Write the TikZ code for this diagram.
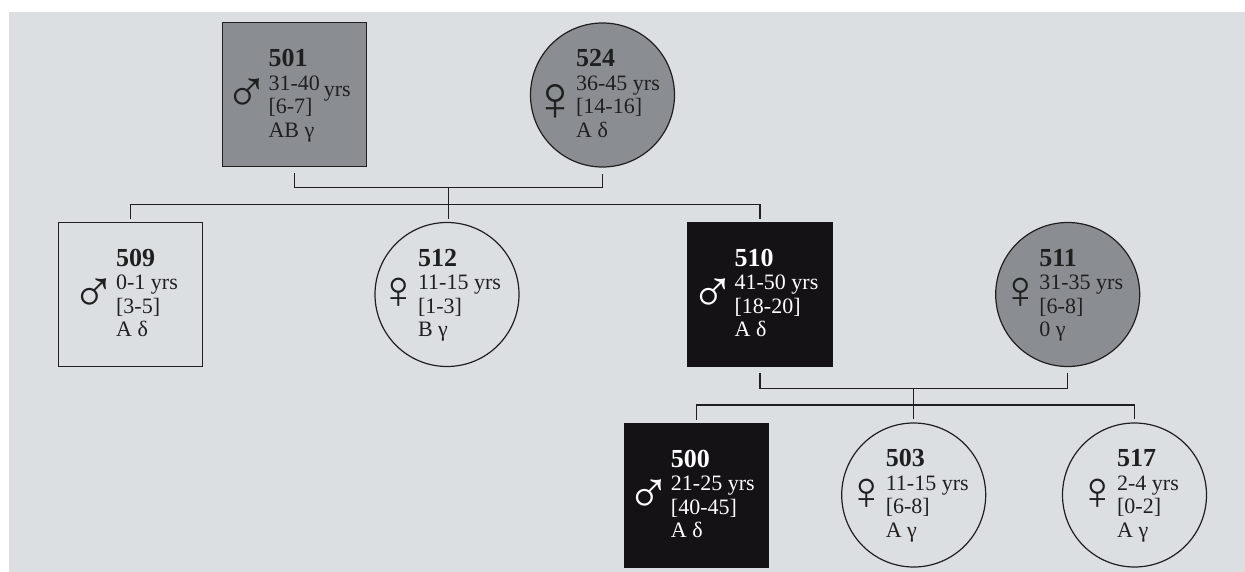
\documentclass[tikz,border=0pt]{standalone}
\usepackage{fontspec}
\setmainfont{Liberation Serif}
\newfontfamily\symfont{Liberation Serif}

\definecolor{bg}{HTML}{DCDFE2}
\definecolor{midgray}{HTML}{8A8E93}
\definecolor{darkfill}{HTML}{141214}
\definecolor{ink}{HTML}{1F1F1F}

% sex symbols in a box of fixed width, vertically centred near the first data line
\newcommand\symcentre[3]{\smash{\makebox[#2][c]{\raisebox{#3}{$\vcenter{\hbox{#1}}$}}}}
\newcommand\msym{\symcentre{\symfont\fontsize{60}{60}\selectfont ♂}{22pt}{-10.5pt}}
\newcommand\fsym{\symcentre{\symfont\fontsize{54}{54}\selectfont ♀}{16pt}{-9pt}}
\newcommand\fsymbig{\symcentre{\symfont\fontsize{64}{64}\selectfont ♀}{20pt}{-17pt}}

% person label: symbol, number, three lines
\newcommand\pinfo[5]{%
  \begin{tabular}{@{}c@{\hspace{11pt}}l@{}}
    & {\fontsize{26}{23.5}\selectfont\bfseries #2}\\
    #1 & #3\\
    & \relax#4\\
    & #5
  \end{tabular}}

\tikzset{
  conn/.style={draw=ink,line width=1.3pt},
  male/.style={rectangle,draw=ink,line width=1.2pt,minimum width=144pt,minimum height=144pt,inner sep=0pt},
  female/.style={circle,draw=ink,line width=1.2pt,minimum size=144pt,inner sep=0pt},
  affected/.style={fill=darkfill,draw=darkfill},
  carrier/.style={fill=midgray},
  info/.style={inner sep=0pt,text=ink,font=\fontsize{22}{23.5}\selectfont},
  infolight/.style={info,text=white},
}

\begin{document}
\begin{tikzpicture}[x=1pt,y=-1pt]
  \useasboundingbox (0,0) rectangle (1245,572);
  \fill[white] (0,0) rectangle (1245,572);
  \fill[bg] (9,12) rectangle (1245,572);

  % generation I
  \node[male,carrier]   (n501) at (294.7,94.7) {};
  \node[female,carrier] (n524) at (602.5,95)   {};
  % generation II
  \node[male]           (n509) at (130.5,294.5) {};
  \node[female]         (n512) at (447,294.5)   {};
  \node[male,affected]  (n510) at (760,294.5)   {};
  \node[female,carrier] (n511) at (1067.7,294.5) {};
  % generation III
  \node[male,affected]  (n500) at (696.3,495.5) {};
  \node[female]         (n503) at (913.7,495)   {};
  \node[female]         (n517) at (1134.5,495)  {};

  % labels
  \node[info] (t501) at ([xshift=-1.5pt,yshift=-2pt]n501.center) {%
    \begin{tabular}{@{}c@{\hspace{11pt}}l@{\hspace{4pt}}l@{}}
      & {\fontsize{26}{23.5}\selectfont\bfseries 501} & \\
      \msym & 31-40 & \smash{\raisebox{-6.5pt}{yrs}}\\
      & \relax[6-7] & \\
      & AB γ &
    \end{tabular}};
  \node[info] (t524) at ([yshift=-2pt]n524.center)
    {\pinfo{\fsymbig}{524}{36-45 yrs}{[14-16]}{A δ}};
  \node[info] (t509) at ([yshift=-2pt]n509.center)
    {\pinfo{\msym}{509}{0-1 yrs}{[3-5]}{A δ}};
  \node[info] (t512) at ([xshift=-1pt,yshift=-2pt]n512.center)
    {\pinfo{\fsym}{512}{11-15 yrs}{[1-3]}{B γ}};
  \node[infolight] (t510) at ([yshift=-2pt]n510.center)
    {\pinfo{\msym}{510}{41-50 yrs}{[18-20]}{A δ}};
  \node[info] (t511) at ([yshift=-2pt]n511.center)
    {\pinfo{\fsym}{511}{31-35 yrs}{[6-8]}{0 γ}};
  \node[infolight] (t500) at ([yshift=-2pt]n500.center)
    {\pinfo{\msym}{500}{21-25 yrs}{[40-45]}{A δ}};
  \node[info] (t503) at ([yshift=-2pt]n503.center)
    {\pinfo{\fsym}{503}{11-15 yrs}{[6-8]}{A γ}};
  \node[info] (t517) at ([yshift=-2pt]n517.center)
    {\pinfo{\fsym}{517}{2-4 yrs}{[0-2]}{A γ}};

  % family lines
  \coordinate (m1) at (448.5,187.7);
  \coordinate (c1) at (448.5,204.3);
  \coordinate (m2) at (913.7,388.7);
  \coordinate (c2) at (913.7,405);

  \draw[conn] ([yshift=-6pt]n501.south) -- (n501.south |- m1) -- (n524.south |- m1) -- ([yshift=-6pt]n524.south);
  \draw[conn] (m1) -- ([yshift=3pt]n512.north -| m1);
  \draw[conn] ([yshift=3pt]n509.north) -- (n509.north |- c1) -- (n510.north |- c1) -- ([yshift=3pt]n510.north);

  \draw[conn] ([yshift=-6pt]n510.south) -- (n510.south |- m2) -- (n511.south |- m2) -- ([yshift=-6pt]n511.south);
  \draw[conn] (m2) -- ([yshift=3pt]n503.north);
  \draw[conn] ([yshift=3pt]n500.north) -- (n500.north |- c2) -- (n517.north |- c2) -- ([yshift=3pt]n517.north);
\end{tikzpicture}
\end{document}
